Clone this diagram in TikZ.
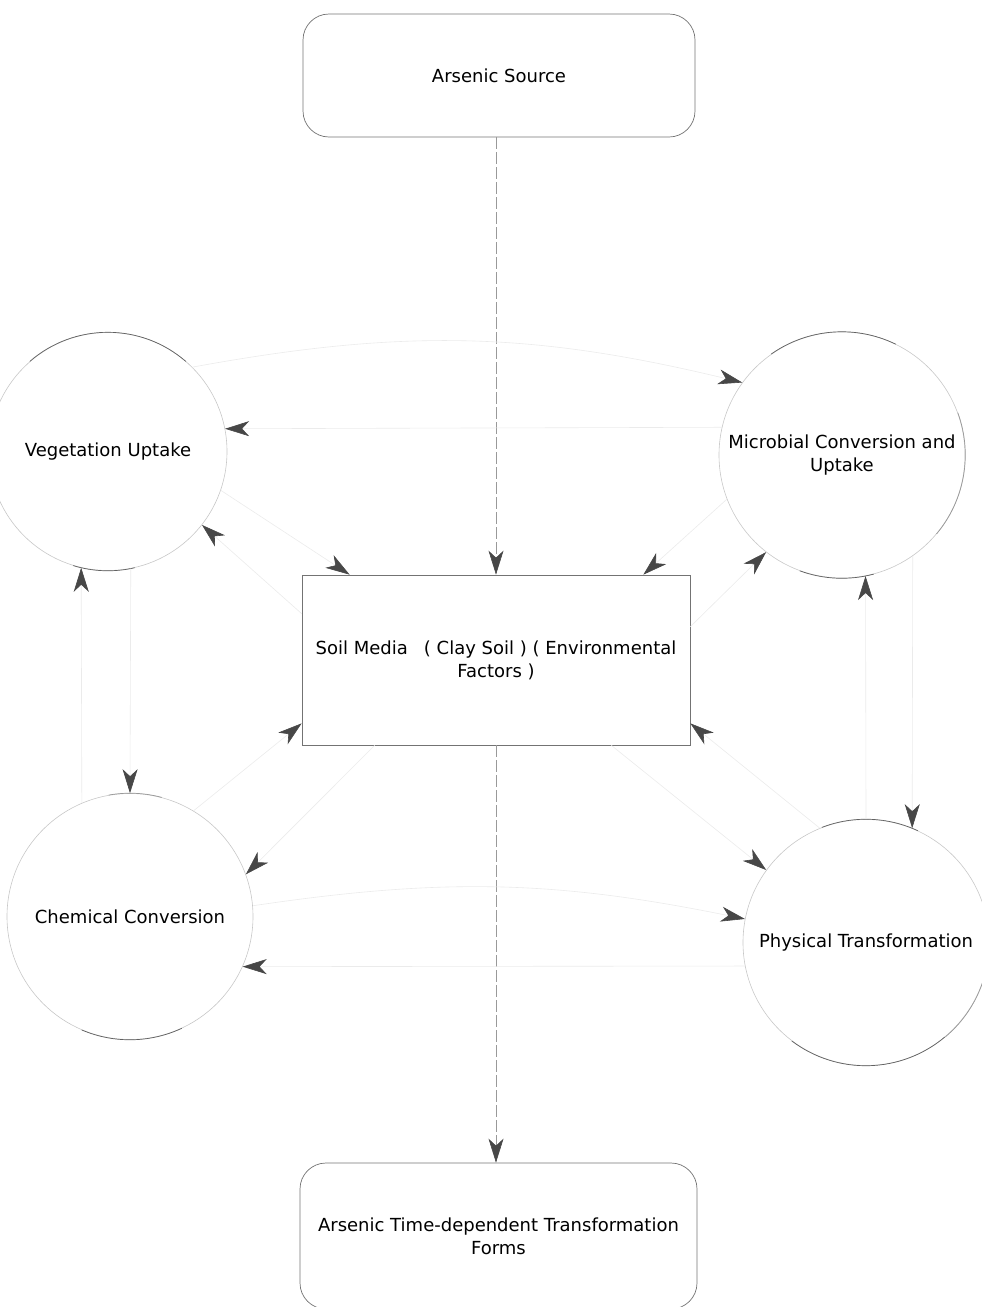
\documentclass[tikz,border=0pt]{standalone}
\usepackage{fontspec}
\setmainfont{DejaVu Sans}
\usetikzlibrary{arrows.meta,calc}
\begin{document}
\begin{tikzpicture}[x=1pt,y=1pt,
  every node/.style={font=\fontsize{18}{23}\selectfont, text=black},
  rbox/.style={draw=black!55, line width=0.7pt, rounded corners=26pt, minimum width=392pt, minimum height=123pt, align=center},
  sbox/.style={draw=black!55, line width=0.7pt, minimum width=388pt, minimum height=170pt, align=center},
  proc/.style={circle, draw=black!22, line width=0.6pt, minimum size=246pt, inner sep=0pt, align=center},
  arcline/.style={draw=black!62, line width=0.7pt},
  tipst/.style={-{Stealth[length=24pt,width=15pt,inset=7pt,color=black!72]}},
  link/.style={draw=black!8, line width=0.6pt, tipst},
  mainlink/.style={draw=black!40, line width=0.6pt, dash pattern=on 12pt off 3pt, tipst}
]
\useasboundingbox (0,0) rectangle (982,-1307);

% nodes
\node[rbox] (src) at (499,-75.5) {Arsenic Source};
\node[sbox] (soil) at (496,-660) {Soil Media\hspace{16pt}( Clay Soil ) ( Environmental\\Factors )};
\node[rbox, minimum width=397pt, minimum height=146pt] (final) at (498.5,-1236) {Arsenic Time-dependent Transformation\\Forms};

\node[proc, minimum size=238pt] (veg) at (108,-451.5) {Vegetation Uptake};
\node[proc] (mic) at (842,-455) {Microbial Conversion and\\Uptake};
\node[proc] (chem) at (130,-916.5) {Chemical Conversion};
\node[proc] (phys) at (866,-942.5) {Physical Transformation};

% darker visible arcs of the circles
\draw[arcline] (veg.131) arc[start angle=131, end angle=49, radius=119pt];
\draw[arcline] (veg.253) arc[start angle=253, end angle=283, radius=119pt];
\draw[arcline] (mic.125) arc[start angle=125, end angle=64, radius=123pt];
\draw[arcline] (mic.250) arc[start angle=250, end angle=285, radius=123pt];
\draw[arcline, draw=black!40] (mic.20) arc[start angle=20, end angle=-40, radius=123pt];
\draw[arcline] (chem.247) arc[start angle=247, end angle=295, radius=123pt];
\draw[arcline, draw=black!40] (chem.100) arc[start angle=100, end angle=75, radius=123pt];
\draw[arcline] (phys.233) arc[start angle=233, end angle=310, radius=123pt];
\draw[arcline, draw=black!40] (phys.310) arc[start angle=310, end angle=345, radius=123pt];
\draw[arcline] (phys.111) arc[start angle=111, end angle=65, radius=123pt];

% main flow
\draw[mainlink] (src.south -| soil.north) -- (soil.north);
\draw[mainlink] (soil.south) -- (final.north -| soil.south);

% exchanges with the soil
\draw[link] (veg.-19) -- ([xshift=48pt]soil.north west);
\draw[link] ([yshift=-39pt]soil.north west) -- (veg.-38);
\draw[link] (chem.59) -- ([yshift=22pt]soil.south west);
\draw[link] ([xshift=73pt]soil.south west) -- (chem.20);
\draw[link] (mic.201) -- ([xshift=-47pt]soil.north east);
\draw[link] ([yshift=-52pt]soil.north east) -- (mic.232);
\draw[link] (phys.112) -- ([yshift=22pt]soil.south east);
\draw[link] ([xshift=-79pt]soil.south east) -- (phys.144);

% exchanges between processes
\draw[link] (chem.113) -- (veg.-103);
\draw[link] (veg.-79) -- (chem.90);
\draw[link] (veg.45) to[bend left=12] (mic.144);
\draw[link] (mic.167) -- (veg.11);
\draw[link] (mic.-55) -- (phys.68);
\draw[link] (phys.90) -- (mic.-79);
\draw[link] (chem.5) to[bend left=10] (phys.169);
\draw[link] (phys.191) -- (chem.-24);
\end{tikzpicture}
\end{document}
